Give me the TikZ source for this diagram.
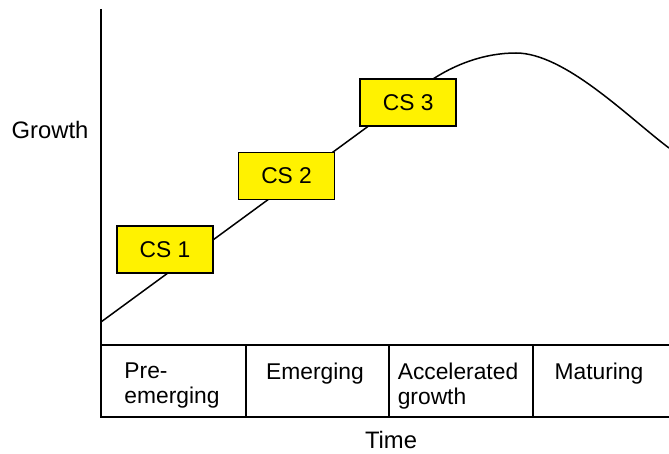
\documentclass[tikz,border=0pt]{standalone}
\usepackage{fontspec}
\setmainfont{Liberation Sans}
\usetikzlibrary{positioning}

\begin{document}
\begin{tikzpicture}[x=1pt, y=-1pt, font=\fontsize{22.8}{25}\selectfont,
  axis/.style={line width=1.7pt},
  curve/.style={line width=1.5pt},
  csbox/.style={draw, line width=1.6pt, fill=yellow, minimum width=96pt, minimum height=47pt, inner sep=0pt},
  phase/.style={align=left, anchor=north, inner sep=0pt},
  title/.style={font=\fontsize{23.8}{26}\selectfont}]
  \useasboundingbox (0,0) rectangle (669,454);

  % axis and phase table
  \draw[axis] (101,9) -- (101,417) -- (669,417);
  \draw[axis] (101,345) -- (669,345);
  \foreach \x in {246,389,533}
    \draw[axis] (\x,345) -- (\x,417);

  % growth curve
  \coordinate (start) at (101,322);
  \coordinate (bend) at (430,81);
  \coordinate (peak) at (516,53);
  \coordinate (end) at (669,148);
  \draw[curve] (start) -- (bend) .. controls (455,64) and (485,53) .. (peak)
    .. controls (565,53) and (629,118) .. (end);

  % stages
  \node[csbox] (cs1) at (165,249.5) {CS 1};
  \node[csbox, above right=25pt and 24pt of cs1] (cs2) {CS 2};
  \node[csbox, above right=25pt and 24pt of cs2] (cs3) {CS 3};

  \node[phase] (pre) at (172,363) {Pre-\\emerging};
  \node[phase] (emerging) at (315,363) {Emerging};
  \node[phase] (accel) at (458,363) {Accelerated\\growth};
  \node[phase] (maturing) at (599,363) {Maturing};

  \node[title] (ylabel) at (50,130) {Growth};
  \node[title] (xlabel) at (391,440) {Time};
\end{tikzpicture}
\end{document}
